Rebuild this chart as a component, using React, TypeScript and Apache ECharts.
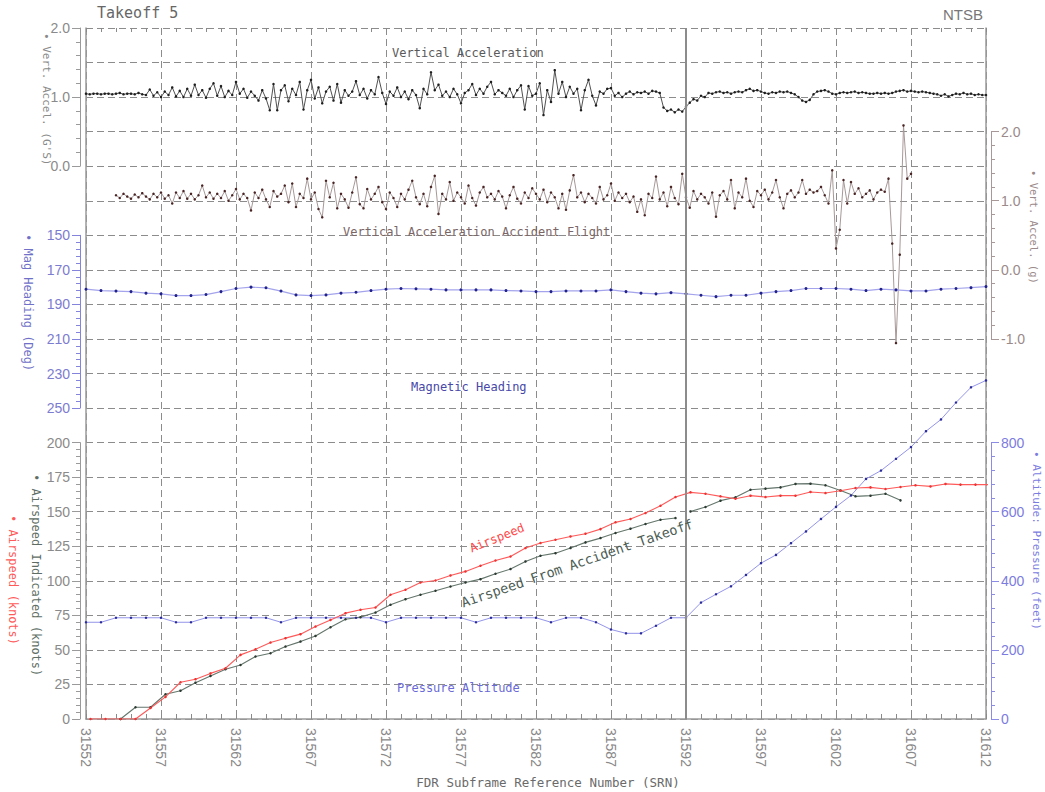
import React, { useEffect, useRef } from 'react';
import * as echarts from 'echarts';

// ---------- DATA ----------
const SRN_START = 31552;
const SRN_END = 31612;
const SRN_LABEL_STEP = 5;

// Vertical acceleration (G), 4 samples per SRN, from 31552
const VA_SAMPLES_PER_SRN = 4;
const VERT_ACCEL_G: number[] = [
  1.05, 1.04, 1.05, 1.05, 1.04, 1.05, 1.05, 1.04, 1.05, 1.06, 1.04, 1.05, 1.05, 1.04, 1.06, 1.04,
  1.03, 1.11, 1.02, 1.07, 1.0, 1.08, 1.03, 1.14, 1.01, 1.09, 1.0, 1.12, 1.02, 1.18, 1.03, 1.1,
  0.99, 1.12, 1.2, 1.02, 1.16, 1.0, 1.09, 1.03, 1.22, 1.05, 1.12, 0.99, 1.08, 1.02, 0.95, 1.1,
  0.98, 0.81, 1.19, 0.81, 1.1, 1.17, 0.94, 1.12, 1.03, 1.22, 0.82, 1.1, 1.25, 0.98, 1.14, 0.91,
  1.08, 1.15, 0.95, 1.19, 0.92, 1.1, 1.02, 1.08, 1.23, 1.03, 1.12, 0.98, 1.1, 1.04, 1.29, 1.06,
  0.9, 1.08, 1.02, 1.14, 1.0, 1.08, 0.97, 1.1, 1.03, 0.84, 1.12, 1.04, 1.36, 1.1, 1.18, 1.02,
  1.08, 1.0, 1.12, 1.04, 0.91, 1.06, 1.1, 1.19, 1.03, 1.12, 1.05, 1.15, 1.22, 1.04, 1.1, 1.06,
  1.02, 1.12, 1.0, 1.1, 1.17, 0.82, 1.16, 1.02, 1.05, 1.2, 0.74, 1.1, 0.93, 1.39, 1.05, 1.22,
  1.0, 1.15, 1.05, 1.12, 0.81, 1.1, 1.25, 1.02, 0.88, 1.08, 1.05, 1.12, 1.13, 1.02, 1.06, 1.0,
  1.05, 1.08, 1.04, 1.07, 1.06, 1.08, 1.05, 1.09, 1.08, 1.06, 0.85, 0.8, 0.82, 0.78, 0.82, 0.79,
  0.86, 0.92, 0.97, 0.95, 1.02, 1.0, 1.06, 1.05, 1.07, 1.08, 1.06, 1.07, 1.05, 1.07, 1.08, 1.07,
  1.1, 1.12, 1.09, 1.1, 1.08, 1.06, 1.05, 1.07, 1.06, 1.08, 1.07, 1.08, 1.06, 1.04, 1.0, 0.95,
  0.93, 0.96, 1.04, 1.08, 1.09, 1.1, 1.08, 1.05, 1.04, 1.06, 1.07, 1.06, 1.07, 1.08, 1.06, 1.07,
  1.06, 1.05, 1.05, 1.06, 1.05, 1.06, 1.05, 1.06, 1.08, 1.09, 1.1, 1.08, 1.09, 1.08, 1.07, 1.08,
  1.07, 1.06, 1.05, 1.04, 1.02, 1.04, 1.01, 1.03, 1.05, 1.04, 1.06, 1.04, 1.05, 1.03, 1.04, 1.03,
  1.03,
];

// Vertical acceleration accident flight (g), 4 samples per SRN, from 31554
const VA_ACCIDENT_START = 31554;
const VERT_ACCEL_ACCIDENT_G: number[] = [
  1.08, 1.04, 1.1, 1.06, 1.03, 1.09, 1.05, 1.11, 1.06, 1.02, 1.1, 1.05, 1.12, 1.03, 1.08, 0.96,
  1.12, 1.04, 1.14, 1.03, 1.1, 1.02, 1.08, 1.22, 1.05, 1.12, 1.03, 1.1, 1.04, 1.14, 1.0, 1.08,
  1.17, 1.02, 1.1, 1.04, 0.86, 1.12, 1.04, 1.16, 1.02, 0.91, 1.14, 1.06, 1.1, 1.22, 0.98, 1.25,
  0.91, 1.1, 1.04, 1.32, 1.02, 1.12, 0.88, 0.76, 1.29, 1.05, 1.26, 0.89, 1.1, 1.02, 0.9, 1.12,
  1.34, 0.95, 0.89, 1.17, 1.02, 1.1, 1.2, 0.98, 0.88, 1.12, 1.04, 0.91, 1.1, 1.02, 1.16, 1.29,
  1.05, 0.95, 1.1, 0.92, 1.2, 1.36, 0.81, 1.1, 1.02, 1.27, 1.0, 1.12, 1.05, 0.96, 1.22, 1.04,
  0.93, 1.12, 1.2, 1.05, 1.1, 1.02, 1.14, 1.06, 0.89, 1.08, 1.2, 1.03, 0.96, 1.12, 1.04, 1.18,
  1.1, 1.02, 1.16, 0.98, 1.12, 1.05, 0.89, 1.1, 0.87, 1.15, 1.37, 1.05, 1.12, 0.98, 1.1, 1.04,
  0.96, 1.2, 1.02, 1.08, 1.25, 1.0, 1.12, 1.04, 1.1, 0.98, 1.06, 0.84, 1.02, 0.79, 1.1, 1.04,
  1.35, 1.02, 1.12, 0.92, 1.2, 1.04, 0.95, 1.39, 1.05, 0.9, 1.14, 1.02, 1.1, 1.05, 0.96, 1.12,
  0.77, 1.08, 1.14, 1.02, 1.3, 0.89, 1.12, 1.05, 1.32, 1.0, 0.91, 1.14, 1.08, 1.16, 1.02, 1.12,
  1.3, 1.05, 0.89, 1.1, 1.15, 1.05, 1.12, 1.3, 1.1, 1.16, 1.12, 1.14, 1.2, 1.08, 0.96, 1.44,
  0.31, 0.58, 1.3, 0.96, 1.27, 1.1, 1.18, 1.05, 1.1, 1.15, 1.02, 1.12, 1.16, 1.13, 1.32, 0.38,
  -1.06, 0.22, 2.09, 1.32, 1.39,
];

// Magnetic heading (deg), 1 per SRN from 31552
const MAG_HEADING_DEG: number[] = [
  181.2, 182.0, 182.3, 182.6, 183.5, 183.9, 184.9, 184.9, 184.3, 182.6, 180.8, 180.0, 180.4, 182.3,
  184.5, 184.9, 184.5, 183.5, 183.0, 182.0, 181.2, 180.8, 181.0, 181.2, 181.6, 181.6, 181.6, 181.6,
  182.0, 182.2, 182.6, 182.6, 182.2, 182.2, 182.2, 181.6, 182.6, 183.5, 183.9, 183.2, 183.9, 184.7,
  185.5, 184.7, 184.7, 183.5, 182.6, 182.0, 180.8, 180.8, 180.8, 181.2, 182.0, 181.2, 181.6, 182.2,
  182.2, 181.2, 180.8, 180.3, 179.7,
];

// Pressure altitude (feet), 1 per SRN from 31552
const PRESSURE_ALTITUDE_FT: number[] = [
  280, 280, 293, 293, 293, 293, 280, 280, 293, 293, 293, 293, 293, 280, 293, 293, 293, 293,
  293, 293, 280, 293, 293, 293, 293, 293, 280, 293, 293, 293, 293, 280, 293, 293, 280, 259, 248,
  248, 270, 293, 293,
  337, 361, 384, 417, 451, 475, 509, 543, 579, 614, 647, 695, 719, 753, 787, 833, 867, 916, 960, 980,
];

// Airspeed samples sit 0.3 SRN after the subframe start
const AIRSPEED_SRN_OFFSET = 0.3;
// Airspeed (knots), from 31552
const AIRSPEED_KT: number[] = [
  0, 0, 0, 0, 8, 16, 26.6, 28.8, 33, 36.7, 46.4, 50.5, 55.3, 58.5, 61.4, 66.9, 71.7, 76.6,
  79, 80.7, 89.9, 93.5, 98.8, 100.2, 103.9, 106.8, 110.9, 114.7, 117.6, 123.7, 127.3, 129.7, 132.1,
  134.1, 137.4, 142.3, 144.7, 149, 154.3, 160.6, 164,
  163, 161.1, 159.4, 161.6, 160.6, 161.6, 161.6, 164.3, 163.5, 165.2, 167.1, 167.6, 166.4, 167.9,
  169.1, 168.3, 170.1, 169.6, 169.6, 169.6,
];
// Airspeed indicated, accident takeoff (knots): two recorded segments
const AIRSPEED_ACC_A_START = 31554;
const AIRSPEED_ACC_A_KT: number[] = [
  0, 8.5, 8.5, 17.9, 20.5, 26.3, 31.2, 36, 39.1, 45.2, 47.6, 52.4, 56, 60.1, 66.4, 72.2,
  73.7, 77, 82.6, 86.7, 89.9, 92.8, 95.9, 98.8, 101.2, 105.1, 108.5, 114, 118.1, 120, 123.7, 127.8,
  130.9, 134.6, 137.7, 141.1, 144.2, 145.4,
];
const AIRSPEED_ACC_B_START = 31592;
const AIRSPEED_ACC_B_KT: number[] = [
  150.2, 153.4, 158, 160.4, 165.9, 166.7, 167.6, 170.1, 170.3, 169.1, 165.4, 161.1, 161.6, 163, 158.2,
];

const MARKED_SRN = 31592;
const HEADING_AXIS_MIN = 150;
const HEADING_AXIS_MAX = 250;

// ---------- LAYOUT ----------
const PL = 86;
const PT = 28;
const PW = 900;
const PH = 691;
const U = PH / 20;

const TICK_FONT = 'Liberation Sans';
const MONO = 'DejaVu Sans Mono';

const gridDash = { color: '#8c8c8c', type: [7, 4] as any, width: 1 };

function buildOption() {
  const rel = (srn: number) => srn - SRN_START;
  const span = SRN_END - SRN_START;

  const vaData = VERT_ACCEL_G.map((v, i) => [i / VA_SAMPLES_PER_SRN, v]);
  const vaAccData = VERT_ACCEL_ACCIDENT_G.map((v, i) => [rel(VA_ACCIDENT_START) + i / VA_SAMPLES_PER_SRN, v]);
  const hdgData = MAG_HEADING_DEG.map((v, i) => [i, v - HEADING_AXIS_MIN]);
  const altData = PRESSURE_ALTITUDE_FT.map((v, i) => [i, v]);
  const asData = AIRSPEED_KT.map((v, i) => [i + AIRSPEED_SRN_OFFSET, v]);
  const asAData = AIRSPEED_ACC_A_KT.map((v, i) => [rel(AIRSPEED_ACC_A_START) + i + AIRSPEED_SRN_OFFSET, v]);
  const asBData = AIRSPEED_ACC_B_KT.map((v, i) => [rel(AIRSPEED_ACC_B_START) + i + AIRSPEED_SRN_OFFSET, v]);

  const hiddenX = (gridIndex: number) => ({
    gridIndex, type: 'value', min: 0, max: span, show: false,
    axisLine: { onZero: false }, splitLine: { show: false },
  });

  const sideAxis = (
    gridIndex: number, position: 'left' | 'right', min: number, max: number, interval: number,
    lineColor: string, labelColor: string, formatter: (v: number) => string, extra: any = {}
  ) => ({
    gridIndex, type: 'value', position, min, max, interval, offset: position === 'left' ? 6 : 5,
    axisLine: { show: true, onZero: false, lineStyle: { color: lineColor, width: 1 } },
    axisTick: { show: true, length: 8, lineStyle: { color: lineColor } },
    minorTick: { show: true, splitNumber: 5, length: 4, lineStyle: { color: lineColor } },
    axisLabel: { color: labelColor, fontSize: 14, fontFamily: TICK_FONT, margin: 10, formatter },
    splitLine: { show: false },
    ...extra,
  });

  const line = (
    name: string, xi: number, yi: number, data: number[][], lineColor: string, markColor: string,
    size: number, width: number, extra: any = {}
  ) => ({
    type: 'line', name, xAxisIndex: xi, yAxisIndex: yi, data, symbol: 'circle', symbolSize: size,
    showSymbol: true, silent: true, lineStyle: { color: lineColor, width }, itemStyle: { color: markColor },
    emphasis: { disabled: true }, ...extra,
  });

  const text = (
    t: string, x: number, y: number, size: number, color: string, family: string,
    align: string = 'left', rotation = 0
  ) => ({
    type: 'text', x, y, rotation, z: 100, silent: true,
    style: {
      text: t, fill: color, font: `${size}px "${family}"`,
      align, textAlign: align, verticalAlign: 'middle', textVerticalAlign: 'middle',
    },
  });
  const deg = Math.PI / 180;

  return {
    animation: false,
    backgroundColor: '#ffffff',
    grid: [
      { left: PL, top: PT, width: PW, height: PH },
      { left: PL, top: PT, width: PW, height: 4 * U },
      { left: PL, top: PT + 3 * U, width: PW, height: 6 * U },
      { left: PL, top: PT + 6 * U, width: PW, height: 5 * U },
      { left: PL, top: PT + 12 * U, width: PW, height: 8 * U },
    ],
    xAxis: [
      {
        gridIndex: 0, type: 'value', position: 'bottom', min: 0, max: span, interval: SRN_LABEL_STEP,
        axisLine: { show: true, onZero: false, lineStyle: { color: '#9a9a9a', width: 1.5 } },
        axisTick: { show: true, inside: true, length: 5, lineStyle: { color: '#8a8a8a' } },
        minorTick: { show: true, splitNumber: 5, length: 5, lineStyle: { color: '#8a8a8a' } },
        axisLabel: {
          rotate: -90, margin: 9, color: '#888', fontSize: 14, fontFamily: TICK_FONT,
          formatter: (v: number) => String(v + SRN_START),
        },
        splitLine: { show: true, lineStyle: gridDash },
      },
      {
        gridIndex: 0, type: 'value', position: 'top', min: 0, max: span, interval: 1,
        axisLine: { show: false, onZero: false },
        axisTick: { show: true, inside: true, length: 4, lineStyle: { color: '#8a8a8a' } },
        axisLabel: { show: false }, splitLine: { show: false },
      },
      hiddenX(1), hiddenX(2), hiddenX(3), hiddenX(4),
    ],
    yAxis: [
      {
        gridIndex: 0, type: 'value', min: 0, max: 20, interval: 1,
        axisLine: { show: true, onZero: false, lineStyle: { color: '#9a9a9a', width: 1.5 } },
        axisTick: { show: false }, axisLabel: { show: false },
        splitLine: { show: true, lineStyle: gridDash },
      },
      {
        gridIndex: 0, type: 'value', position: 'right', min: 0, max: 20, interval: 1,
        axisLine: { show: true, onZero: false, lineStyle: { color: '#9a9a9a', width: 1.5 } },
        axisTick: { show: false }, axisLabel: { show: false }, splitLine: { show: false },
      },
      sideAxis(1, 'left', 0, 2, 1, '#9a9a9a', '#8a8a8a', (v) => v.toFixed(1)),
      sideAxis(2, 'right', -1, 2, 1, '#a89898', '#9a8a8a', (v) => v.toFixed(1)),
      sideAxis(3, 'left', 0, HEADING_AXIS_MAX - HEADING_AXIS_MIN, 20, '#8484dc', '#7c7cd0',
        (v) => String(v + HEADING_AXIS_MIN), { inverse: true }),
      sideAxis(4, 'left', 0, 200, 25, '#9a9a9a', '#8a8a8a', (v) => String(v)),
      sideAxis(4, 'right', 0, 800, 200, '#8c8ce6', '#7c7ce0', (v) => String(v)),
    ],
    series: [
      {
        type: 'line', xAxisIndex: 0, yAxisIndex: 0, data: [[rel(MARKED_SRN), 0]], showSymbol: false,
        silent: true, lineStyle: { width: 0 },
        markLine: {
          silent: true, symbol: 'none', label: { show: false },
          lineStyle: { type: 'solid', color: '#8c8c8c', width: 2 },
          data: [{ xAxis: rel(MARKED_SRN) }],
        },
      },
      line('Vertical Acceleration', 2, 2, vaData, '#505050', '#1e1e1e', 2.5, 1),
      line('Vertical Acceleration Accident Flight', 3, 3, vaAccData, '#a89898', '#4a2424', 2.5, 1, { clip: false }),
      line('Magnetic Heading', 4, 4, hdgData, '#a4a4ec', '#22228c', 3, 1.2),
      line('Pressure Altitude', 5, 6, altData, '#9494ea', '#2a2a9a', 2.5, 1, { clip: false }),
      line('Airspeed From Accident Takeoff A', 5, 5, asAData, '#64766c', '#2c3a32', 2.5, 1.1),
      line('Airspeed From Accident Takeoff B', 5, 5, asBData, '#64766c', '#2c3a32', 2.5, 1.1),
      line('Airspeed', 5, 5, asData, '#ff5a5a', '#ee3333', 2.5, 1.1),
    ],
    graphic: [
      text('Takeoff 5', 97, 13, 15, '#666', MONO),
      text('NTSB', 983, 14, 15, '#777', 'Liberation Sans', 'right'),
      text('Vertical Acceleration', 392, 53, 12, '#5a5a5a', MONO),
      text('Vertical Acceleration Accident Flight', 343, 232, 12, '#7a6666', MONO),
      text('Magnetic Heading', 411, 387, 12, '#4848a8', MONO),
      text('Pressure Altitude', 397, 688, 12, '#6a6ad8', MONO),
      text('Airspeed', 497, 538, 12, '#ff4848', MONO, 'center', 22 * deg),
      text('Airspeed From Accident Takeoff', 577, 563, 13.5, '#4c5c54', MONO, 'center', 19 * deg),
      text('FDR Subframe Reference Number (SRN)', 548, 782, 12.5, '#6a6a6a', MONO, 'center'),
      text("• Vert. Accel. (G'S)", 46, 33, 11, '#8a8a8a', MONO, 'left', -90 * deg),
      text('• Mag Heading (Deg)', 28, 234, 12, '#7070c8', MONO, 'left', -90 * deg),
      text('• Airspeed Indicated (knots)', 36, 474, 12, '#5e6e66', MONO, 'left', -90 * deg),
      text('• Airspeed (knots)', 13, 515, 12, '#ff5a5a', MONO, 'left', -90 * deg),
      text('• Vert. Accel. (g)', 1034, 170, 10.5, '#9a8a8a', MONO, 'left', -90 * deg),
      text('• Altitude: Pressure (feet)', 1036, 451, 11, '#7c7ce0', MONO, 'left', -90 * deg),
    ],
  };
}

export default function App() {
  const ref = useRef<HTMLDivElement>(null);
  useEffect(() => {
    if (!ref.current) return;
    const chart = echarts.init(ref.current, undefined, { renderer: 'svg', width: 1045, height: 792 });
    chart.setOption(buildOption() as any);
    return () => chart.dispose();
  }, []);
  return (
    <div
      ref={ref}
      style={{ position: 'absolute', left: 0, top: 0, width: 1045, height: 792, background: '#fff' }}
    />
  );
}
